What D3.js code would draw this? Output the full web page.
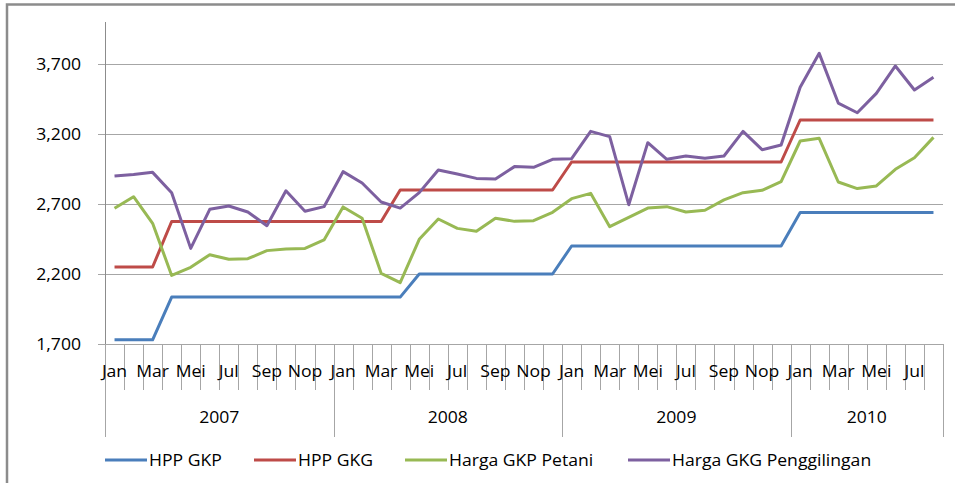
<!DOCTYPE html>
<html>
<head>
<meta charset="utf-8">
<script src="https://cdn.jsdelivr.net/npm/d3@7"></script>
<style>
  body { margin: 0; background: #fff; }
  #chart { width: 955px; height: 483px; }
  text { font-family: "Open Sans", "Liberation Sans", sans-serif; fill: #000; }
</style>
</head>
<body>
<div id="chart"></div>
<script>
// data (Rp/kg), Jan 2007 .. Aug 2010
const years = ["2007", "2008", "2009", "2010"]
const monthsInYear = [12, 12, 12, 8]
const monthNames = ["Jan", "Feb", "Mar", "Apr", "Mei", "Jun", "Jul", "Agu", "Sep", "Okt", "Nop", "Des"]
const yTicks = [1700, 2200, 2700, 3200, 3700]

const hppGKP = [1730, 1730, 1730, 2035, 2035, 2035, 2035, 2035, 2035, 2035, 2035, 2035,
    2035, 2035, 2035, 2035, 2200, 2200, 2200, 2200, 2200, 2200, 2200, 2200,
    2400, 2400, 2400, 2400, 2400, 2400, 2400, 2400, 2400, 2400, 2400, 2400,
    2640, 2640, 2640, 2640, 2640, 2640, 2640, 2640]
const hppGKG = [2250, 2250, 2250, 2575, 2575, 2575, 2575, 2575, 2575, 2575, 2575, 2575,
    2575, 2575, 2575, 2800, 2800, 2800, 2800, 2800, 2800, 2800, 2800, 2800,
    3000, 3000, 3000, 3000, 3000, 3000, 3000, 3000, 3000, 3000, 3000, 3000,
    3300, 3300, 3300, 3300, 3300, 3300, 3300, 3300]
const hargaGKPPetani = [2669, 2752, 2562, 2190, 2248, 2338, 2305, 2309, 2367, 2379, 2383, 2443,
    2679, 2598, 2205, 2138, 2448, 2593, 2526, 2505, 2598, 2576, 2581, 2641,
    2738, 2776, 2538, 2605, 2671, 2681, 2643, 2655, 2729, 2781, 2798, 2860,
    3150, 3169, 2857, 2810, 2829, 2948, 3031, 3176]
const hargaGKGPenggilingan = [2900, 2910, 2926, 2781, 2383, 2662, 2686, 2643, 2545, 2795, 2648, 2681,
    2931, 2850, 2714, 2671, 2781, 2943, 2914, 2883, 2879, 2967, 2962, 3019,
    3024, 3219, 3181, 2695, 3138, 3019, 3043, 3026, 3043, 3219, 3088, 3121,
    3534, 3776, 3421, 3352, 3490, 3686, 3514, 3605]

const seriesNames = ["HPP GKP", "HPP GKG", "Harga GKP Petani", "Harga GKG Penggilingan"]
const colors = ["#4a7ebb", "#be4b48", "#98b954", "#7d60a0"]

width = 955
height = 483
const margin = {left: 105, right: 12, top: 22, bottom: 139}
const stretch = 1.1   // the picture's text is a bit wide

// one key per month, like "2007-0"
let cats = []
years.forEach((y, yi) => {
    for (let m = 0; m < monthsInYear[yi]; m++) cats.push({key: y + "-" + m, year: y, m: m})
})

const x = d3.scaleBand()
    .domain(cats.map(c => c.key))
    .range([margin.left, width - margin.right])
    .padding(0)
const y = d3.scaleLinear()
    .domain([1700, 4000])
    .range([height - margin.bottom, margin.top])

let svg = d3.select("#chart")
    .append("svg")
    .attr("width", width)
    .attr("height", height)

// chart frame (only left and top edges show in the picture)
svg.append("path")
    .attr("d", `M7,${height} V4.5 H${width}`)
    .attr("fill", "none")
    .attr("stroke", "#8c8c8c")
    .attr("stroke-width", 2.5)

const bottom = height - margin.bottom
const x0 = margin.left, x1 = width - margin.right

// gridlines + y axis
const yAxis = svg.append("g")
    .attr("transform", `translate(${x0},0)`)
    .call(d3.axisLeft(y).tickValues(yTicks).tickSize(7).tickFormat(d3.format(",")))
yAxis.select(".domain").remove()
yAxis.selectAll(".tick line").attr("stroke", "#a6a6a6")
yAxis.selectAll(".tick text")
    .attr("x", -24 / stretch)
    .attr("transform", `scale(${stretch},1)`)
    .style("font-size", "16px")
    .style("font-family", "'Open Sans', sans-serif")
    .attr("fill", "#000")

svg.append("g")
    .selectAll("line")
    .data(yTicks)
    .join("line")
    .attr("x1", x0).attr("x2", x1)
    .attr("y1", d => Math.round(y(d)) + 0.5).attr("y2", d => Math.round(y(d)) + 0.5)
    .attr("stroke", "#a6a6a6")

svg.append("line")
    .attr("x1", x0 + 0.5).attr("x2", x0 + 0.5)
    .attr("y1", margin.top).attr("y2", bottom)
    .attr("stroke", "#8c8c8c")

// category axis: month ticks and year separators
const bounds = cats.map(c => x(c.key)).concat([x1])
svg.append("g")
    .selectAll("line")
    .data(bounds)
    .join("line")
    .attr("x1", d => Math.round(d) + 0.5).attr("x2", d => Math.round(d) + 0.5)
    .attr("y1", bottom)
    .attr("y2", (d, i) => {
        let isYear = i == 0 || i == bounds.length - 1 || (cats[i] && cats[i].m == 0)
        return isYear ? bottom + 93 : bottom + 46
    })
    .attr("stroke", "#a6a6a6")

svg.append("g")
    .selectAll("text")
    .data(cats.filter(c => c.m % 2 == 0))
    .join("text")
    .attr("transform", d => `translate(${x(d.key) + x.bandwidth() / 2},${bottom + 33}) scale(${stretch},1)`)
    .attr("text-anchor", "middle")
    .style("font-size", "16px")
    .text(d => monthNames[d.m])

svg.append("g")
    .selectAll("text")
    .data(years)
    .join("text")
    .attr("transform", (d, i) => {
        let yc = cats.filter(c => c.year == d)
        let cx = (x(yc[0].key) + x(yc[yc.length - 1].key) + x.bandwidth()) / 2
        return `translate(${cx},${bottom + 79}) scale(${stretch},1)`
    })
    .attr("text-anchor", "middle")
    .style("font-size", "16px")
    .text(d => d)

// lines
const allSeries = [hppGKP, hppGKG, hargaGKPPetani, hargaGKGPenggilingan]
const line = d3.line()
    .x((d, i) => x(cats[i].key) + x.bandwidth() / 2)
    .y(d => y(d))

svg.append("g")
    .selectAll("path")
    .data(allSeries)
    .join("path")
    .attr("d", d => line(d))
    .attr("fill", "none")
    .attr("stroke", (d, i) => colors[i])
    .attr("stroke-width", 3)
    .attr("stroke-linejoin", "round")

// legend
const legendX = [105, 254, 405, 628]
const leg = svg.append("g")
    .selectAll("g")
    .data(seriesNames)
    .join("g")
    .attr("transform", (d, i) => `translate(${legendX[i]},460)`)
leg.append("line")
    .attr("x1", 0).attr("x2", 42)
    .attr("stroke", (d, i) => colors[i])
    .attr("stroke-width", 3)
leg.append("text")
    .attr("transform", `translate(44,0) scale(${stretch},1)`)
    .attr("dy", "0.35em")
    .style("font-size", "16px")
    .text(d => d)
</script>
</body>
</html>
